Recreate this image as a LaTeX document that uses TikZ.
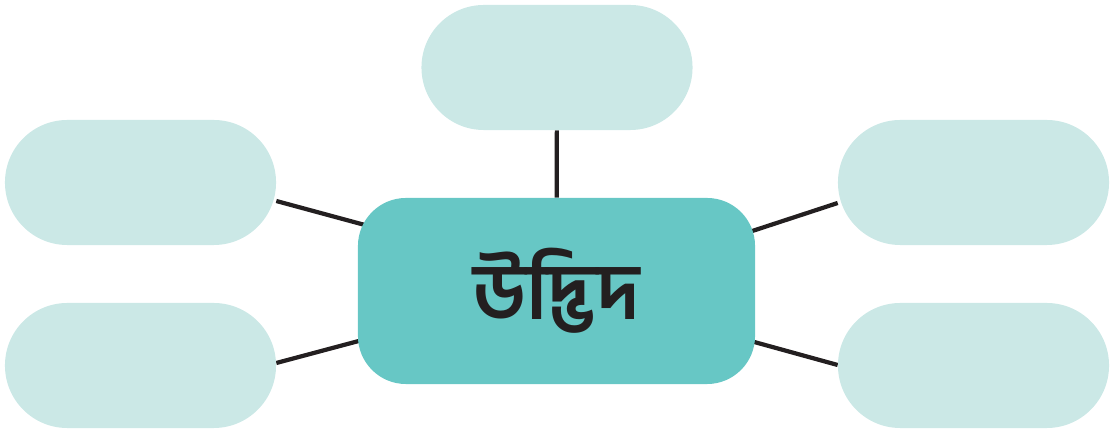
\documentclass[tikz,border=0pt]{standalone}
\usepackage{fontspec}
\newfontfamily\bnfont[Script=Bengali]{Hind Siliguri}
\usetikzlibrary{calc,backgrounds}
\definecolor{hubfill}{RGB}{103,199,197}
\definecolor{leaffill}{RGB}{203,232,230}
\definecolor{wireink}{RGB}{35,31,32}
\tikzset{
  hub/.style  = {fill=hubfill, minimum width=9.925cm, minimum height=4.65cm,
                 rounded corners=1.2cm, inner sep=0pt, text=wireink},
  leaf/.style = {fill=leaffill, minimum width=6.775cm, minimum height=3.125cm,
                 rounded corners=1.56cm, inner sep=0pt},
  wire/.style = {line width=3pt, draw=wireink},
}
\begin{document}
\begin{tikzpicture}[x=0.025cm,y=-0.025cm]
  \useasboundingbox (0,0) rectangle (1114,432);
  % centre
  \node[hub] (plant) at (556.5,291)
     {\bnfont\bfseries\fontsize{56}{64}\selectfont উদ্ভিদ};
  % outer boxes
  \node[leaf] (top) at (557,67.5) {};
  \node[leaf] (lefttop) at (140.5,182.5) {};
  \node[leaf] (leftbot) at (140.5,365.5) {};
  \node[leaf] (righttop) at (973.5,182.5) {};
  \node[leaf] (rightbot) at (973.5,365.5) {};
  % links, tucked under the boxes
  \begin{scope}[on background layer]
  \draw[wire] (top) -- (plant);
  \draw[wire] ($(lefttop.east)+(0,18.5)$) -- ($(plant.west)+(22,-62)$);
  \draw[wire] ($(leftbot.east)+(0,-2.5)$) -- ($(plant.west)+(22,44.4)$);
  \draw[wire] ($(righttop.west)+(0,20.5)$) -- ($(plant.east)+(-25,-52.8)$);
  \draw[wire] ($(rightbot.west)+(0,-0.5)$) -- ($(plant.east)+(-25,44.4)$);
  \end{scope}
\end{tikzpicture}
\end{document}
